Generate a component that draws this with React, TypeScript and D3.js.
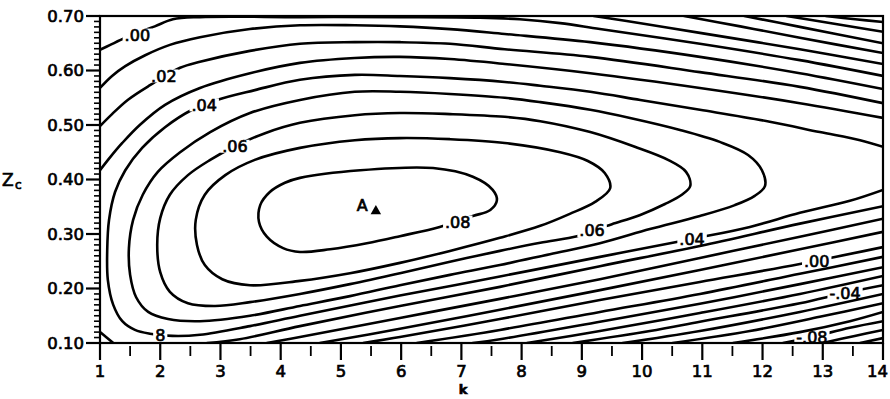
import React from "react";
import * as d3 from "d3";

type Pt = [number, number];

const W = 890;
const H = 399;
const PLOT = { left: 100, right: 883, top: 16, bottom: 343 };

// Axis ticks
const kTicks = [1, 2, 3, 4, 5, 6, 7, 8, 9, 10, 11, 12, 13, 14];
const kMinorTicks = [1.5, 2.5, 3.5, 4.5, 5.5, 6.5, 7.5, 8.5, 9.5, 10.5, 11.5, 12.5, 13.5];
const zTicks = [0.1, 0.2, 0.3, 0.4, 0.5, 0.6, 0.7];
const zTickLabels = ["0.10", "0.20", "0.30", "0.40", "0.50", "0.60", "0.70"];
const zMinorTicks = d3.range(11, 70).filter((v) => v % 10 !== 0).map((v) => v / 100);

// Maximum of the surface
const peakA: Pt = [5.58, 0.342];

// Contour lines, points as [k, Zc]
const c_p08: Pt[] = [
  [4.32, 0.403], [5.32, 0.417], [6.53, 0.421], [7.19, 0.405], [7.52, 0.381], [7.59, 0.362],
  [7.48, 0.344], [7.19, 0.333], [6.64, 0.313], [5.98, 0.296], [5.43, 0.283], [4.82, 0.272],
  [4.32, 0.267], [4.04, 0.274], [3.77, 0.295], [3.64, 0.322], [3.66, 0.353], [3.82, 0.377],
  [4.07, 0.394],
];
const c_p07: Pt[] = [
  [9.47, 0.384], [9.38, 0.412], [9.1, 0.434], [8.64, 0.45], [7.72, 0.467], [6.81, 0.474],
  [5.98, 0.476], [5.23, 0.472], [4.32, 0.458], [3.57, 0.436], [3.08, 0.408], [2.74, 0.372],
  [2.59, 0.326], [2.61, 0.28], [2.74, 0.243], [3.03, 0.217], [3.49, 0.206], [4.32, 0.214],
  [5.15, 0.228], [5.98, 0.247], [6.81, 0.269], [7.64, 0.293], [8.31, 0.315], [8.8, 0.337],
  [9.22, 0.359],
];
const c_p06: Pt[] = [
  [10.8, 0.388], [10.73, 0.414], [10.43, 0.436], [9.88, 0.46], [9.14, 0.487], [8.31, 0.507],
  [7.72, 0.515], [6.81, 0.52], [5.98, 0.522], [5.23, 0.518], [4.32, 0.504], [3.74, 0.485],
  [3.24, 0.461], [2.83, 0.436], [2.46, 0.408], [2.16, 0.372], [2.0, 0.329], [1.95, 0.28],
  [2.0, 0.23], [2.16, 0.194], [2.46, 0.173], [2.91, 0.168], [3.49, 0.175], [4.32, 0.19],
  [5.15, 0.208], [5.98, 0.228], [6.81, 0.249], [7.64, 0.269], [8.31, 0.284], [8.92, 0.296],
  [9.17, 0.306], [9.5, 0.318], [9.97, 0.335], [10.38, 0.355], [10.66, 0.372],
];
const c_p05: Pt[] = [
  [12.04, 0.388], [11.99, 0.417], [11.76, 0.445], [11.29, 0.469], [10.63, 0.491], [9.8, 0.513],
  [9.14, 0.528], [8.31, 0.542], [7.72, 0.55], [6.81, 0.557], [5.98, 0.561], [5.23, 0.561],
  [4.32, 0.546], [3.49, 0.522], [2.83, 0.487], [2.33, 0.45], [1.96, 0.414], [1.71, 0.372],
  [1.55, 0.326], [1.48, 0.274], [1.5, 0.225], [1.6, 0.184], [1.8, 0.157], [2.13, 0.144],
  [2.66, 0.14], [3.49, 0.15], [4.32, 0.168], [5.15, 0.186], [5.98, 0.206], [6.81, 0.225],
  [7.64, 0.243], [8.47, 0.263], [9.3, 0.283], [10.13, 0.309], [10.96, 0.333], [11.54, 0.353],
  [11.87, 0.37],
];
const c_p04: Pt[] = [
  [14.0, 0.46], [13.62, 0.472], [12.95, 0.487], [12.12, 0.506], [10.96, 0.528], [9.97, 0.546],
  [9.14, 0.561], [8.31, 0.572], [7.72, 0.579], [6.81, 0.586], [5.98, 0.59], [5.23, 0.592],
  [4.32, 0.583], [3.57, 0.564], [2.94, 0.546], [2.53, 0.528], [2.08, 0.496], [1.7, 0.458],
  [1.42, 0.417], [1.25, 0.377], [1.15, 0.326], [1.12, 0.271], [1.13, 0.216], [1.22, 0.17],
  [1.37, 0.14], [1.58, 0.124], [1.83, 0.117], [2.2, 0.113], [2.66, 0.115], [3.49, 0.131],
  [4.32, 0.15], [5.98, 0.187], [7.64, 0.222], [9.3, 0.258], [10.83, 0.291], [11.79, 0.313],
  [12.62, 0.339], [13.45, 0.361], [14.0, 0.381],
];
const c_p03Upper: Pt[] = [
  [1.0, 0.417], [1.17, 0.441], [1.37, 0.467], [1.66, 0.5], [2.08, 0.537], [2.66, 0.568],
  [3.49, 0.595], [4.32, 0.614], [5.23, 0.623], [5.98, 0.625], [6.81, 0.621], [7.72, 0.612],
  [9.14, 0.595], [10.96, 0.568], [12.62, 0.54], [14.0, 0.513],
];
const c_p03Corner: Pt[] = [[1.0, 0.12], [1.1, 0.111], [1.22, 0.1]];
const c_p03Lower: Pt[] = [
  [2.78, 0.1], [3.32, 0.107], [4.32, 0.131], [5.98, 0.168], [7.64, 0.203], [9.3, 0.241],
  [10.96, 0.278], [12.62, 0.319], [14.0, 0.351],
];
const c_p02Upper: Pt[] = [
  [1.0, 0.498], [1.2, 0.52], [1.46, 0.546], [1.83, 0.573], [2.33, 0.605], [2.66, 0.616],
  [3.49, 0.636], [4.32, 0.649], [5.23, 0.652], [5.98, 0.652], [6.81, 0.649], [7.72, 0.639],
  [9.14, 0.625], [10.96, 0.597], [12.62, 0.57], [14.0, 0.54],
];
const c_p02Lower: Pt[] = [
  [3.77, 0.1], [4.32, 0.111], [5.98, 0.146], [7.64, 0.181], [9.3, 0.217], [10.96, 0.256],
  [12.62, 0.295], [14.0, 0.328],
];
const c_p01Upper: Pt[] = [
  [1.0, 0.568], [1.2, 0.59], [1.42, 0.608], [1.75, 0.628], [2.16, 0.647], [2.66, 0.661],
  [3.49, 0.676], [4.32, 0.683], [5.23, 0.683], [5.98, 0.681], [6.81, 0.676], [7.72, 0.667],
  [9.14, 0.652], [10.96, 0.625], [12.62, 0.595], [14.0, 0.566],
];
const c_p01Lower: Pt[] = [
  [4.65, 0.1], [5.98, 0.126], [7.64, 0.161], [9.3, 0.197], [10.96, 0.234], [12.62, 0.272],
  [14.0, 0.304],
];
const c_00Upper: Pt[] = [
  [1.0, 0.638], [1.17, 0.647], [1.42, 0.66], [1.66, 0.671], [1.91, 0.681], [2.21, 0.694],
  [2.66, 0.698], [4.32, 0.698], [5.98, 0.698], [7.31, 0.697], [7.97, 0.694], [8.64, 0.687],
  [9.3, 0.676], [10.96, 0.649], [12.62, 0.619], [14.0, 0.59],
];
const c_00Lower: Pt[] = [
  [5.37, 0.1], [5.98, 0.111], [7.64, 0.144], [9.3, 0.179], [10.96, 0.212], [12.62, 0.245],
  [14.0, 0.276],
];
const c_m01Upper: Pt[] = [[9.2, 0.7], [10.13, 0.684], [10.96, 0.669], [12.62, 0.639], [14.0, 0.612]];
const c_m01Lower: Pt[] = [
  [6.26, 0.1], [7.64, 0.124], [9.3, 0.157], [10.96, 0.19], [12.62, 0.227], [14.0, 0.258],
];
const c_m02Upper: Pt[] = [[10.7, 0.7], [11.63, 0.681], [12.62, 0.66], [14.0, 0.632]];
const c_m02Lower: Pt[] = [
  [7.19, 0.1], [7.64, 0.107], [9.3, 0.139], [10.96, 0.172], [12.62, 0.208], [14.0, 0.239],
];
const c_m03Upper: Pt[] = [[11.7, 0.7], [12.62, 0.68], [14.0, 0.65]];
const c_m03Lower: Pt[] = [[8.09, 0.1], [9.3, 0.122], [10.96, 0.155], [12.62, 0.19], [14.0, 0.223]];
const c_m04Upper: Pt[] = [[12.4, 0.7], [13.29, 0.684], [14.0, 0.671]];
const c_m04Lower: Pt[] = [
  [8.85, 0.1], [10.13, 0.122], [10.96, 0.139], [12.62, 0.173], [13.37, 0.192], [14.0, 0.206],
];
const c_m05Upper: Pt[] = [[13.05, 0.7], [13.54, 0.694], [14.0, 0.689]];
const c_m05Lower: Pt[] = [[9.68, 0.1], [10.96, 0.122], [12.62, 0.157], [14.0, 0.19]];
const c_m06Lower: Pt[] = [[10.51, 0.1], [11.79, 0.122], [12.95, 0.148], [14.0, 0.173]];
const c_m07Lower: Pt[] = [[11.51, 0.1], [12.62, 0.12], [13.45, 0.14], [14.0, 0.157]];
const c_m08Lower: Pt[] = [[12.34, 0.1], [12.82, 0.111], [13.45, 0.128], [14.0, 0.14]];
const c_m09Lower: Pt[] = [[13.0, 0.1], [13.53, 0.113], [14.0, 0.124]];
const c_m10Lower: Pt[] = [[13.62, 0.1], [14.0, 0.109]];

const contourPieces: { level: number; pts: Pt[]; closed?: boolean }[] = [
  { level: 0.08, pts: c_p08, closed: true },
  { level: 0.07, pts: c_p07, closed: true },
  { level: 0.06, pts: c_p06, closed: true },
  { level: 0.05, pts: c_p05, closed: true },
  { level: 0.04, pts: c_p04 },
  { level: 0.03, pts: c_p03Upper },
  { level: 0.03, pts: c_p03Corner },
  { level: 0.03, pts: c_p03Lower },
  { level: 0.02, pts: c_p02Upper },
  { level: 0.02, pts: c_p02Lower },
  { level: 0.01, pts: c_p01Upper },
  { level: 0.01, pts: c_p01Lower },
  { level: 0.0, pts: c_00Upper },
  { level: 0.0, pts: c_00Lower },
  { level: -0.01, pts: c_m01Upper },
  { level: -0.01, pts: c_m01Lower },
  { level: -0.02, pts: c_m02Upper },
  { level: -0.02, pts: c_m02Lower },
  { level: -0.03, pts: c_m03Upper },
  { level: -0.03, pts: c_m03Lower },
  { level: -0.04, pts: c_m04Upper },
  { level: -0.04, pts: c_m04Lower },
  { level: -0.05, pts: c_m05Upper },
  { level: -0.05, pts: c_m05Lower },
  { level: -0.06, pts: c_m06Lower },
  { level: -0.07, pts: c_m07Lower },
  { level: -0.08, pts: c_m08Lower },
  { level: -0.09, pts: c_m09Lower },
  { level: -0.1, pts: c_m10Lower },
];

// In-line contour labels
const contourLabels: { text: string; level: number; k: number; z: number }[] = [
  { text: ".00", level: 0.0, k: 1.62, z: 0.665 },
  { text: ".02", level: 0.02, k: 2.06, z: 0.59 },
  { text: ".04", level: 0.04, k: 2.73, z: 0.537 },
  { text: ".06", level: 0.06, k: 3.24, z: 0.461 },
  { text: ".08", level: 0.08, k: 6.94, z: 0.322 },
  { text: ".06", level: 0.06, k: 9.17, z: 0.306 },
  { text: ".04", level: 0.04, k: 10.83, z: 0.291 },
  { text: ".00", level: 0.0, k: 12.9, z: 0.25 },
  { text: "-.04", level: -0.04, k: 13.37, z: 0.192 },
  { text: "-.08", level: -0.08, k: 12.82, z: 0.111 },
  { text: "8", level: 0.04, k: 2.0, z: 0.115 },
];

const FONT = "'DejaVu Sans', Verdana, sans-serif";
const LABEL_SIZE = 16;

const charW = (c: string) => (c === "." ? 0.318 : c === "-" ? 0.361 : 0.636);
const textWidth = (t: string, size: number) =>
  t.split("").reduce((s, c) => s + charW(c), 0) * size;

export default function App() {
  const x = d3.scaleLinear().domain([1, 14]).range([PLOT.left, PLOT.right]);
  const y = d3.scaleLinear().domain([0.1, 0.7]).range([PLOT.bottom, PLOT.top]);

  const openLine = d3
    .line<Pt>()
    .x((d) => x(d[0]))
    .y((d) => y(d[1]))
    .curve(d3.curveCatmullRom.alpha(0.5));
  const closedLine = d3
    .line<Pt>()
    .x((d) => x(d[0]))
    .y((d) => y(d[1]))
    .curve(d3.curveCatmullRomClosed.alpha(0.5));

  const tri = d3.symbol().type(d3.symbolTriangle).size(48)() || "";

  const textStyle = {
    fontFamily: FONT,
    fill: "#000",
    stroke: "#000",
    strokeWidth: 0.7,
  } as React.CSSProperties;

  return (
    <svg
      width={W}
      height={H}
      viewBox={`0 0 ${W} ${H}`}
      style={{ position: "absolute", left: 0, top: 0, background: "#fff" }}
    >
      <defs>
        <clipPath id="plot-clip">
          <rect
            x={PLOT.left}
            y={PLOT.top}
            width={PLOT.right - PLOT.left}
            height={PLOT.bottom - PLOT.top}
          />
        </clipPath>
        {contourPieces.map((p, i) => {
          const labs = contourLabels.filter((l) => Math.abs(l.level - p.level) < 1e-9);
          return (
            <mask key={i} id={`gap-${i}`} maskUnits="userSpaceOnUse" x={0} y={0} width={W} height={H}>
              <rect x={0} y={0} width={W} height={H} fill="#fff" />
              {labs.map((l, j) => {
                const w = textWidth(l.text, LABEL_SIZE) + 4;
                const h = 13;
                return (
                  <rect
                    key={j}
                    x={x(l.k) - w / 2}
                    y={y(l.z) - h / 2}
                    width={w}
                    height={h}
                    fill="#000"
                  />
                );
              })}
            </mask>
          );
        })}
      </defs>

      <rect x={0} y={0} width={W} height={H} fill="#fff" />

      <g clipPath="url(#plot-clip)">
        {contourPieces.map((p, i) => (
          <path
            key={i}
            d={(p.closed ? closedLine(p.pts) : openLine(p.pts)) || ""}
            fill="none"
            stroke="#000"
            strokeWidth={2.6}
            strokeLinecap="round"
            strokeLinejoin="round"
            mask={`url(#gap-${i})`}
          />
        ))}
      </g>

      {/* frame */}
      <rect
        x={PLOT.left}
        y={PLOT.top}
        width={PLOT.right - PLOT.left}
        height={PLOT.bottom - PLOT.top}
        fill="none"
        stroke="#000"
        strokeWidth={2.2}
      />

      {/* Zc axis ticks */}
      {zMinorTicks.map((v) => (
        <line key={`zm${v}`} x1={PLOT.left - 6} x2={PLOT.left} y1={y(v)} y2={y(v)} stroke="#000" strokeWidth={1.6} />
      ))}
      {zTicks.map((v, i) => (
        <g key={`z${v}`}>
          <line x1={PLOT.left - 14} x2={PLOT.left} y1={y(v)} y2={y(v)} stroke="#000" strokeWidth={2.2} />
          <text x={PLOT.left - 16} y={y(v)} dy="0.36em" textAnchor="end" fontSize={16.5} style={textStyle}>
            {zTickLabels[i]}
          </text>
        </g>
      ))}

      {/* k axis ticks */}
      {kMinorTicks.map((v) => (
        <line key={`km${v}`} x1={x(v)} x2={x(v)} y1={PLOT.bottom + 3} y2={PLOT.bottom + 13} stroke="#000" strokeWidth={1.8} />
      ))}
      {kTicks.map((v, i) => (
        <g key={`k${v}`}>
          <line x1={x(v)} x2={x(v)} y1={PLOT.bottom} y2={PLOT.bottom + 17} stroke="#000" strokeWidth={2.2} />
          <text
            x={i === kTicks.length - 1 ? W - 2 : x(v)}
            y={PLOT.bottom + 34}
            textAnchor={i === kTicks.length - 1 ? "end" : "middle"}
            fontSize={16.5}
            style={textStyle}
          >
            {v}
          </text>
        </g>
      ))}

      {/* axis titles */}
      <text x={463} y={394} textAnchor="middle" fontSize={13} fontWeight="bold" style={textStyle}>
        k
      </text>
      <text x={2} y={186} fontSize={17} style={textStyle}>
        Z
      </text>
      <text x={15} y={189} fontSize={12} style={textStyle}>
        c
      </text>

      {/* contour labels */}
      {contourLabels.map((l, i) => (
        <text
          key={`cl${i}`}
          x={x(l.k)}
          y={y(l.z)}
          dy="0.36em"
          textAnchor="middle"
          fontSize={LABEL_SIZE}
          style={textStyle}
        >
          {l.text}
        </text>
      ))}

      {/* peak marker */}
      <path d={tri} transform={`translate(${x(peakA[0])},${y(peakA[1])})`} fill="#000" />
      <text x={x(peakA[0]) - 19} y={y(peakA[1])} fontSize={16} style={textStyle}>
        A
      </text>
    </svg>
  );
}
